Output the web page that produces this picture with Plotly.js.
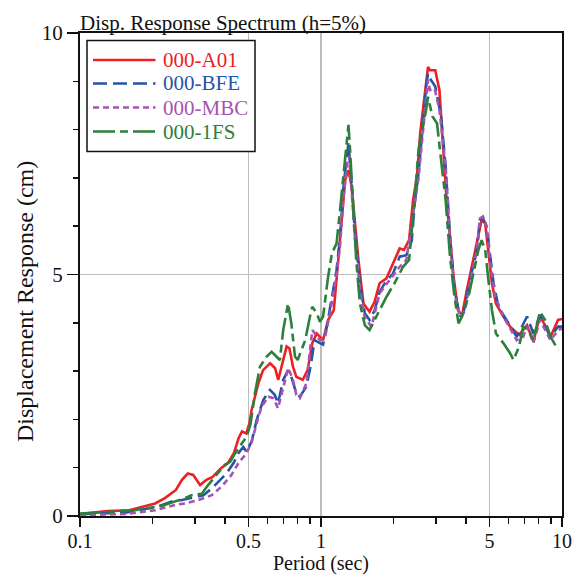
<!DOCTYPE html>
<html>
<head>
<meta charset="utf-8">
<script src="https://cdn.plot.ly/plotly-3.0.1.min.js"></script>
<style>html,body{margin:0;padding:0;background:#fff;}#chart{width:582px;height:579px;}</style>
</head>
<body>
<div id="chart"></div>
<script>
// ---- Data (period in sec, displacement response in cm) ----
const seriesNames = ['000-A01', '000-BFE', '000-MBC', '000-1FS'];

const periodA01 = [0.1, 0.12, 0.13, 0.16, 0.18, 0.205, 0.225, 0.24, 0.25, 0.265, 0.28, 0.295, 0.315, 0.335, 0.355, 0.385, 0.41, 0.435, 0.455, 0.47, 0.49, 0.505, 0.515, 0.55, 0.575, 0.615, 0.645, 0.665, 0.695, 0.72, 0.74, 0.765, 0.79, 0.84, 0.88, 0.92, 0.96, 1.02, 1.07, 1.13, 1.15, 1.18, 1.22, 1.26, 1.30, 1.34, 1.38, 1.43, 1.50, 1.59, 1.67, 1.75, 1.87, 1.99, 2.12, 2.21, 2.32, 2.41, 2.5, 2.58, 2.73, 2.78, 2.83, 2.98, 3.10, 3.22, 3.32, 3.43, 3.55, 3.70, 3.85, 4.03, 4.20, 4.50, 4.64, 4.80, 4.95, 5.12, 5.32, 5.71, 6.09, 6.64, 7.16, 7.61, 8.10, 8.96, 9.63, 10];
const dispA01 = [0.04, 0.08, 0.1, 0.12, 0.18, 0.26, 0.37, 0.47, 0.54, 0.75, 0.88, 0.85, 0.64, 0.75, 0.81, 0.99, 1.09, 1.30, 1.61, 1.75, 1.71, 1.92, 2.19, 2.75, 3.02, 3.16, 3.06, 2.82, 3.23, 3.51, 3.47, 3.09, 2.88, 2.82, 3.02, 3.58, 3.78, 3.64, 4.06, 4.26, 4.68, 5.30, 6.20, 6.96, 7.16, 6.82, 6.13, 5.30, 4.40, 4.23, 4.44, 4.82, 4.92, 5.23, 5.54, 5.51, 5.71, 6.54, 7.02, 7.92, 8.96, 9.30, 9.23, 9.23, 8.82, 7.58, 6.54, 5.78, 4.95, 4.26, 4.16, 4.68, 5.09, 5.78, 6.13, 6.06, 5.51, 4.82, 4.40, 4.13, 3.92, 3.75, 3.95, 3.61, 4.16, 3.71, 4.06, 4.08];

const periodBFE = [0.1, 0.154, 0.205, 0.24, 0.265, 0.30, 0.325, 0.352, 0.375, 0.405, 0.433, 0.454, 0.476, 0.491, 0.516, 0.541, 0.576, 0.614, 0.643, 0.663, 0.697, 0.731, 0.753, 0.79, 0.817, 0.87, 0.91, 0.94, 0.99, 1.02, 1.06, 1.09, 1.16, 1.20, 1.24, 1.29, 1.30, 1.34, 1.38, 1.45, 1.52, 1.59, 1.67, 1.75, 1.84, 1.99, 2.12, 2.26, 2.38, 2.45, 2.54, 2.62, 2.73, 2.78, 2.83, 2.98, 3.15, 3.29, 3.43, 3.58, 3.77, 3.90, 4.12, 4.44, 4.56, 4.70, 4.87, 5.04, 5.20, 5.45, 5.71, 6.49, 7.16, 7.61, 8.10, 8.96, 9.63, 10];
const dispBFE = [0.035, 0.07, 0.18, 0.30, 0.33, 0.39, 0.43, 0.57, 0.71, 0.88, 1.09, 1.30, 1.43, 1.33, 1.55, 1.99, 2.40, 2.61, 2.51, 2.33, 2.82, 3.02, 2.88, 2.54, 2.47, 2.68, 3.16, 3.64, 3.58, 3.55, 3.95, 4.33, 5.09, 5.78, 6.82, 7.58, 7.72, 6.89, 5.92, 4.82, 4.20, 4.06, 4.26, 4.64, 4.82, 5.02, 5.37, 5.40, 5.70, 6.50, 7.10, 7.85, 8.89, 9.16, 9.06, 8.89, 8.27, 7.23, 5.78, 4.68, 4.13, 4.20, 4.82, 5.51, 6.13, 6.16, 5.99, 5.37, 4.82, 4.33, 4.16, 3.71, 4.13, 3.78, 4.16, 3.71, 3.92, 3.92];

const periodMBC = [0.1, 0.154, 0.205, 0.248, 0.273, 0.31, 0.352, 0.387, 0.425, 0.454, 0.491, 0.516, 0.541, 0.566, 0.605, 0.634, 0.663, 0.697, 0.731, 0.765, 0.79, 0.817, 0.87, 0.92, 0.99, 1.04, 1.09, 1.16, 1.20, 1.24, 1.29, 1.31, 1.34, 1.38, 1.45, 1.52, 1.62, 1.75, 1.93, 2.12, 2.26, 2.41, 2.54, 2.62, 2.73, 2.78, 2.83, 2.96, 3.10, 3.29, 3.43, 3.58, 3.77, 3.96, 4.20, 4.44, 4.56, 4.70, 4.87, 5.04, 5.28, 5.71, 6.49, 6.9, 7.16, 7.61, 8.10, 8.96, 9.63, 10];
const dispMBC = [0.02, 0.04, 0.12, 0.23, 0.26, 0.33, 0.43, 0.61, 0.85, 1.09, 1.30, 1.54, 1.92, 2.26, 2.47, 2.44, 2.23, 2.68, 3.06, 2.82, 2.51, 2.44, 2.75, 3.85, 3.64, 3.71, 4.20, 5.00, 5.60, 6.60, 7.37, 7.45, 6.80, 5.80, 4.70, 4.10, 3.92, 4.61, 4.89, 5.16, 5.30, 6.20, 7.00, 7.72, 8.75, 9.03, 8.82, 8.85, 8.41, 7.23, 5.78, 4.61, 4.13, 4.26, 4.95, 5.51, 6.16, 6.20, 6.00, 5.23, 4.54, 4.13, 3.64, 3.71, 3.92, 3.58, 4.06, 3.64, 3.85, 3.88];

const period1FS = [0.1, 0.131, 0.169, 0.218, 0.273, 0.29, 0.32, 0.34, 0.363, 0.399, 0.42, 0.44, 0.469, 0.491, 0.51, 0.532, 0.558, 0.595, 0.624, 0.653, 0.675, 0.697, 0.719, 0.73, 0.753, 0.78, 0.80, 0.86, 0.90, 0.92, 0.96, 0.99, 1.02, 1.07, 1.11, 1.16, 1.20, 1.24, 1.29, 1.30, 1.32, 1.36, 1.40, 1.45, 1.52, 1.59, 1.64, 1.75, 1.87, 2.02, 2.19, 2.32, 2.45, 2.54, 2.73, 2.78, 2.90, 3.03, 3.15, 3.29, 3.43, 3.58, 3.72, 3.85, 4.12, 4.33, 4.50, 4.64, 4.80, 4.95, 5.12, 5.32, 5.71, 6.09, 6.29, 6.64, 6.90, 7.27, 7.61, 8.10, 8.50, 8.96, 9.63];
const disp1FS = [0.05, 0.09, 0.12, 0.21, 0.37, 0.43, 0.46, 0.64, 0.81, 1.06, 1.12, 1.30, 1.50, 1.64, 1.90, 2.54, 3.09, 3.30, 3.40, 3.30, 3.23, 3.85, 4.26, 4.40, 3.99, 3.30, 3.23, 3.64, 4.13, 4.33, 4.20, 4.02, 4.13, 4.95, 5.44, 5.64, 6.34, 7.02, 7.99, 8.10, 7.58, 6.34, 5.30, 4.40, 3.95, 3.85, 3.99, 4.26, 4.54, 4.82, 5.16, 5.30, 6.60, 7.58, 8.41, 8.68, 8.27, 8.13, 7.37, 6.54, 5.37, 4.54, 3.99, 4.13, 4.61, 5.09, 5.51, 5.71, 5.51, 4.89, 4.26, 3.78, 3.58, 3.37, 3.23, 3.51, 3.92, 3.85, 3.64, 4.23, 4.06, 3.71, 3.44];

const xTickVals = [0.1, 0.5, 1, 5, 10];
const xTickText = ['0.1', '0.5', '1', '5', '10'];
const xMinorVals = [0.2, 0.3, 0.4, 0.6, 0.7, 0.8, 0.9, 2, 3, 4, 6, 7, 8, 9];
const yTickVals = [0, 5, 10];
const yTickText = ['0', '5', '10'];
const yMinorVals = [1, 2, 3, 4, 6, 7, 8, 9];

// ---- Styles ----
const FONT = 'Liberation Serif, Times New Roman, serif';
const INK = '#111';
const colors = ['rgb(237,32,36)', 'rgb(38,84,166)', 'rgb(166,84,176)', 'rgb(44,128,60)'];
const dashes = ['solid', '14px,6px', '6px,4px', '22px,5px,8px,5px'];
const periods = [periodA01, periodBFE, periodMBC, period1FS];
const disps = [dispA01, dispBFE, dispMBC, disp1FS];

const data = seriesNames.map((n, i) => ({
  x: periods[i], y: disps[i], type: 'scatter', mode: 'lines', name: n,
  line: {color: colors[i], width: 2.6, dash: dashes[i]}, showlegend: false
}));

// ---- Legend box drawn in paper coordinates ----
const PL = 80, PR = 562, PT = 33, PB = 516;
const px = v => (v - PL) / (PR - PL);
const py = v => (PB - v) / (PB - PT);
const legendRows = [60, 83.5, 107.5, 131.5];
const shapes = [{
  type: 'rect', xref: 'paper', yref: 'paper',
  x0: px(87), x1: px(255), y0: py(151.5), y1: py(40.5),
  line: {color: INK, width: 1.5}, fillcolor: '#fff', layer: 'above'
}];
const annotations = [];
seriesNames.forEach((n, i) => {
  shapes.push({
    type: 'line', xref: 'paper', yref: 'paper',
    x0: px(93), x1: px(155.5), y0: py(legendRows[i]), y1: py(legendRows[i]),
    line: {color: colors[i], width: 2.6, dash: dashes[i]}, layer: 'above'
  });
  annotations.push({
    text: n, xref: 'paper', yref: 'paper', x: px(161), y: py(legendRows[i]),
    xanchor: 'left', yanchor: 'middle', showarrow: false,
    font: {family: FONT, size: 21, color: colors[i]}
  });
});
annotations.push({
  text: 'Displacement Response (cm)', textangle: -90,
  xref: 'paper', yref: 'paper', x: px(25), y: py(302),
  xanchor: 'center', yanchor: 'middle', showarrow: false,
  font: {family: FONT, size: 24, color: INK}
});

const layout = {
  width: 582, height: 579,
  margin: {l: PL, r: 582 - PR, t: PT, b: 579 - PB},
  paper_bgcolor: '#fff', plot_bgcolor: '#fff',
  font: {family: FONT, size: 20, color: INK},
  showlegend: false,
  title: {
    text: 'Disp. Response Spectrum (h=5%)',
    x: 0, xref: 'paper', xanchor: 'left',
    y: 1, yref: 'paper', yanchor: 'bottom', pad: {b: 3},
    font: {family: FONT, size: 21, color: INK}
  },
  xaxis: {
    type: 'log', range: [-1, 1],
    tickvals: xTickVals, ticktext: xTickText,
    ticks: 'outside', ticklen: 9, tickwidth: 1.5, tickcolor: INK,
    minor: {tickvals: xMinorVals, ticks: 'outside', ticklen: 6, tickwidth: 1.5, tickcolor: INK, showgrid: false},
    showgrid: true, gridcolor: '#bdbdbd', gridwidth: 1.5,
    showline: true, linecolor: INK, linewidth: 2, mirror: true,
    zeroline: false, ticklabelstandoff: -3,
    tickfont: {family: FONT, size: 20, color: INK},
    title: {text: 'Period (sec)', font: {family: FONT, size: 20, color: INK}, standoff: 2}
  },
  yaxis: {
    range: [0, 10],
    tickvals: yTickVals, ticktext: yTickText,
    ticks: 'outside', ticklen: 11, tickwidth: 1.5, tickcolor: INK,
    minor: {tickvals: yMinorVals, ticks: 'outside', ticklen: 5, tickwidth: 1.5, tickcolor: INK, showgrid: false},
    showgrid: true, gridcolor: '#bdbdbd', gridwidth: 1.5,
    showline: true, linecolor: INK, linewidth: 2, mirror: true,
    zeroline: false, ticklabelstandoff: 0,
    tickfont: {family: FONT, size: 21, color: INK}
  },
  shapes: shapes,
  annotations: annotations
};

Plotly.newPlot('chart', data, layout, {staticPlot: true, displayModeBar: false});
</script>
</body>
</html>
